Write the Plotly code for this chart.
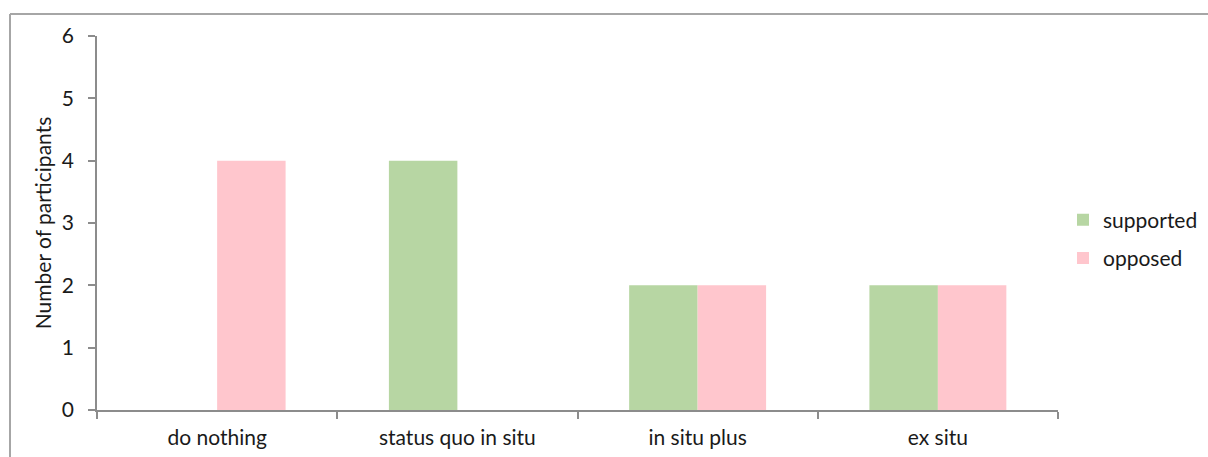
import plotly.graph_objects as go

categories = ["do nothing", "status quo in situ", "in situ plus", "ex situ"]
supported = [0, 4, 2, 2]
opposed = [4, 0, 2, 2]
y_ticks = [0, 1, 2, 3, 4, 5, 6]

GREEN = "#b7d6a3"
PINK = "#ffc6cd"
AXIS = "#8c8c8c"
FONT = "Lato"
FS = 21

fig = go.Figure()
fig.add_trace(go.Bar(name="supported", x=categories, y=supported, legendgroup="s",
                     marker=dict(color=GREEN, line=dict(width=0))))
fig.add_trace(go.Bar(name="opposed", x=categories, y=opposed, legendgroup="o",
                     marker=dict(color=PINK, line=dict(width=0))))

W, H = 1208, 457
L, R, T, B = 97, 1058, 36, 410
pw, ph = R - L, B - T

fig.update_layout(
    width=W, height=H,
    margin=dict(l=L, r=W - R, t=T, b=H - B, autoexpand=False),
    paper_bgcolor="white", plot_bgcolor="white",
    barmode="group", bargap=0.43, bargroupgap=0,
    font=dict(family=FONT, size=FS, color="#1a1a1a"),
    legend=dict(x=(1063 - L) / pw, y=(410 - 239) / ph, xanchor="left", yanchor="middle",
                font=dict(family=FONT, size=21), itemwidth=30, tracegroupgap=8,
                bgcolor="rgba(0,0,0,0)"),
    xaxis=dict(showline=True, linecolor=AXIS, linewidth=1.5, ticks="outside",
               tickson="boundaries", ticklen=7, tickcolor=AXIS, tickwidth=1.5,
               showgrid=False, zeroline=False, tickfont=dict(size=FS),
               ticklabelstandoff=8),
    yaxis=dict(range=[0, 6], tickvals=y_ticks, showline=True, linecolor=AXIS,
               linewidth=1.5, ticks="outside", ticklen=7, tickcolor=AXIS, tickwidth=1.5,
               showgrid=False, zeroline=False, tickfont=dict(size=FS),
               ticklabelstandoff=10,
               title=dict(text="Number of participants", font=dict(size=FS), standoff=5)),
)

# chart frame, running past the right and bottom edges
x0 = (10 - L) / pw
y1 = 1 + (T - 14) / ph
fig.add_shape(type="line", xref="paper", yref="paper", x0=x0, x1=(W + 5 - L) / pw,
              y0=y1, y1=y1, line=dict(color="#a6a6a6", width=2))
fig.add_shape(type="line", xref="paper", yref="paper", x0=x0, x1=x0,
              y0=y1, y1=-(H + 5 - B) / ph, line=dict(color="#a6a6a6", width=2))

fig.write_html("out.html")
